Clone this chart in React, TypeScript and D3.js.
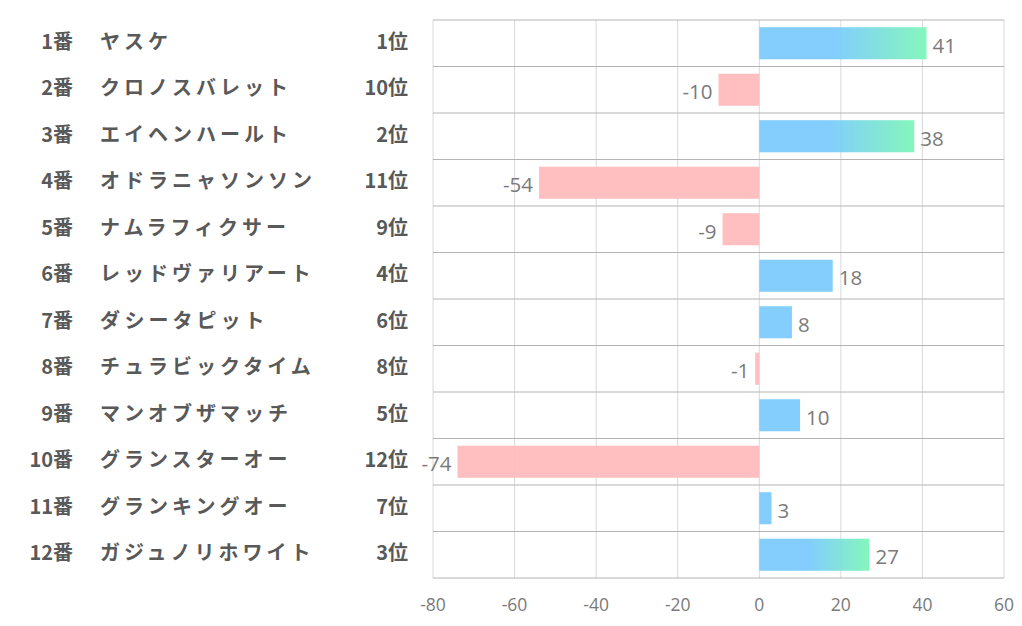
import React from "react";
import * as d3 from "d3";

const numbers = ["1番", "2番", "3番", "4番", "5番", "6番", "7番", "8番", "9番", "10番", "11番", "12番"];
const names = ["ヤスケ", "クロノスバレット", "エイヘンハールト", "オドラニャソンソン", "ナムラフィクサー", "レッドヴァリアート", "ダシータピット", "チュラビックタイム", "マンオブザマッチ", "グランスターオー", "グランキングオー", "ガジュノリホワイト"];
const ranks = ["1位", "10位", "2位", "11位", "9位", "4位", "6位", "8位", "5位", "12位", "7位", "3位"];
const values = [41, -10, 38, -54, -9, 18, 8, -1, 10, -74, 3, 27];
const xTicks = [-80, -60, -40, -20, 0, 20, 40, 60];
const topRanks = ["1位", "2位", "3位"];

const W = 1022;
const H = 626;
const plot = { left: 433, right: 1004, top: 20, bottom: 578 };

export default function App() {
  const x = d3.scaleLinear().domain([-80, 60]).range([plot.left, plot.right]);
  const y = d3
    .scaleBand<number>()
    .domain(d3.range(values.length))
    .range([plot.top, plot.bottom])
    .paddingInner(0.31)
    .paddingOuter(0.155);
  const rows = d3.scaleBand<number>().domain(d3.range(values.length)).range([plot.top, plot.bottom]);
  const rowH = rows.bandwidth();

  const blue = "#7ccbfd";
  const green = "#7ef6b8";
  const pink = "#ffbabc";

  return (
    <svg
      width={W}
      height={H}
      style={{ position: "absolute", left: 0, top: 0, background: "#fff" }}
      fontFamily="'Noto Sans CJK JP', 'Noto Sans', sans-serif"
    >
      <defs>
        <linearGradient id="topGrad" x1="0" x2="1" y1="0" y2="0">
          <stop offset="0%" stopColor={blue} />
          <stop offset="45%" stopColor={blue} />
          <stop offset="100%" stopColor={green} />
        </linearGradient>
      </defs>
      {xTicks.map((t) => (
        <line key={"v" + t} x1={x(t)} x2={x(t)} y1={plot.top} y2={plot.bottom} stroke="#d9d9d9" strokeWidth={1} />
      ))}
      {d3.range(values.length + 1).map((i) => (
        <line
          key={"h" + i}
          x1={plot.left}
          x2={plot.right}
          y1={plot.top + i * rowH}
          y2={plot.top + i * rowH}
          stroke="#b4b4b4"
          strokeWidth={1}
        />
      ))}
      {values.map((v, i) => {
        const x0 = Math.min(x(0), x(v));
        const w = Math.abs(x(v) - x(0));
        const fill = v < 0 ? pink : topRanks.includes(ranks[i]) ? "url(#topGrad)" : blue;
        return <rect key={"b" + i} x={x0} y={y(i)} width={w} height={y.bandwidth()} fill={fill} opacity={0.95} />;
      })}
      {values.map((v, i) => (
        <text
          key={"vl" + i}
          x={v < 0 ? x(v) - 6 : x(v) + 6}
          y={rows(i)! + rowH / 2 + 4}
          dominantBaseline="middle"
          textAnchor={v < 0 ? "end" : "start"}
          fontSize={20.5}
          fill="#7a7a7a"
          fontFamily="'Open Sans', 'Noto Sans', sans-serif"
        >
          {v}
        </text>
      ))}
      {values.map((_, i) => {
        const cy = rows(i)! + rowH / 2;
        return (
          <g key={"l" + i} fontWeight={700} fill="#595959" fontSize={20}>
            <text x={73} y={cy} dominantBaseline="middle" textAnchor="end">
              {numbers[i]}
            </text>
            <text x={100} y={cy} dominantBaseline="middle" letterSpacing={4}>
              {names[i]}
            </text>
            <text x={408} y={cy} dominantBaseline="middle" textAnchor="end">
              {ranks[i]}
            </text>
          </g>
        );
      })}
      {xTicks.map((t) => (
        <text
          key={"t" + t}
          x={x(t)}
          y={606}
          textAnchor="middle"
          dominantBaseline="middle"
          fontSize={17.5}
          fill="#7a7a7a"
          fontFamily="'Open Sans', 'Noto Sans', sans-serif"
        >
          {t}
        </text>
      ))}
    </svg>
  );
}
